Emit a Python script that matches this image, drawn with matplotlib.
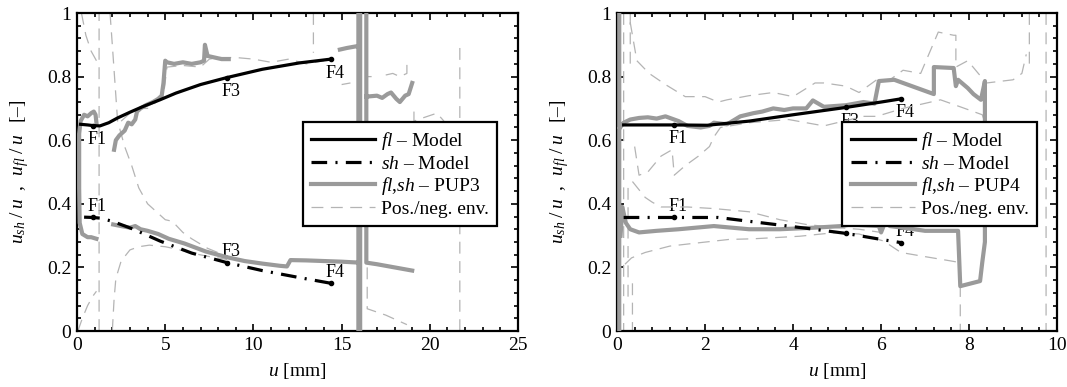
import numpy as np
import matplotlib
matplotlib.use("Agg")
import matplotlib.pyplot as plt
from matplotlib.ticker import MultipleLocator

plt.rcParams["font.family"] = ["Liberation Serif", "DejaVu Serif"]
plt.rcParams["mathtext.fontset"] = "custom"
plt.rcParams["mathtext.rm"] = "Liberation Serif"
plt.rcParams["mathtext.it"] = "Liberation Serif:italic"

NAN = np.nan

# ---------------- PUP3 (left) ----------------
fl_model_u_L = [0.2, 0.6, 0.9, 1.3, 1.8, 2.3, 3.0, 3.7, 4.7, 5.6, 7.0, 8.5, 10.5, 12.6, 14.4]
fl_model_L = [0.650, 0.648, 0.646, 0.645, 0.655, 0.670, 0.688, 0.705, 0.727, 0.748, 0.775, 0.797, 0.823, 0.843, 0.855]
sh_model_u_L = [0.4, 0.9, 1.3, 2.0, 3.2, 4.7, 6.5, 8.5, 10.5, 12.6, 14.4]
sh_model_L = [0.358, 0.357, 0.355, 0.345, 0.320, 0.283, 0.245, 0.215, 0.190, 0.168, 0.150]
f_points_L = [0.9, 8.5, 14.4]

# measured curve (fl and sh branches), NaN = break
pup3_u = [1.1, 0.8, 0.6, 0.3, 0.15, 0.12, 0.12, 0.2, 0.4, 0.6, 0.8, 0.95, 1.05, 1.1, NAN,
          2.1, 2.2, 2.4, 2.7, 2.9, 3.1, 3.3, 3.4, 3.6, 3.9, 4.1, 4.3, 4.6, 4.8, 4.9, 5.0, 5.1,
          5.5, 6.0, 6.5, 7.0, 7.2, 7.25, 7.4, 7.8, 8.2, 8.6, NAN,
          2.05, 2.5, 3.0, 3.3, 3.6, 4.0, 4.6, 5.2, 6.1, 7.3, 8.5, 9.5, 10.5, 11.5, 11.9, 12.1,
          13.0, 14.0, 15.0, 16.0, NAN,
          14.9, 15.3, 15.8, 16.0, NAN,
          15.95, 15.95, NAN, 16.05, 16.05, NAN,
          16.4, 16.4, 17.0, 18.0, 19.0, NAN,
          16.4, 17.0, 17.3, 17.6, 17.8, 18.1, 18.3, 18.6, 18.8, 19.0]
pup3_v = [0.29, 0.295, 0.295, 0.305, 0.34, 0.45, 0.62, 0.66, 0.68, 0.675, 0.685, 0.69, 0.68, 0.655, NAN,
          0.57, 0.60, 0.615, 0.63, 0.655, 0.65, 0.665, 0.69, 0.70, 0.71, 0.715, 0.72, 0.73, 0.74, 0.78, 0.85, 0.845,
          0.84, 0.845, 0.84, 0.845, 0.85, 0.90, 0.865, 0.86, 0.855, 0.855, NAN,
          0.335, 0.33, 0.325, 0.33, 0.32, 0.315, 0.305, 0.29, 0.275, 0.25, 0.232, 0.22, 0.212, 0.205, 0.203, 0.223,
          0.222, 0.22, 0.218, 0.215, NAN,
          0.885, 0.89, 0.895, 0.895, NAN,
          0.0, 1.0, NAN, 0.0, 1.0, NAN,
          1.0, 0.215, 0.21, 0.20, 0.19, NAN,
          0.737, 0.74, 0.733, 0.745, 0.75, 0.73, 0.72, 0.74, 0.745, 0.78]

# positive / negative envelopes
env3_u = [0.25, 0.5, 0.8, 1.1, NAN,
          1.25, 1.25, NAN,
          1.87, 2.0, 2.15, 2.3, 2.7, 3.1, 3.5, 4.0, 4.4, 5.0, 5.4, 6.0, 6.5, 7.4, 8.5, NAN,
          0.05, 0.3, 0.6, 0.9, 1.1, NAN,
          2.0, 2.1, 2.2, 2.5, 3.0, 3.5, 4.1, 5.0, 5.7, 6.5, 7.4, 8.5, NAN,
          2.5, 3.0, 3.5, 4.0, 4.5, 4.9, 5.1, 6.0, 7.0, 7.5, 8.0, 9.0, 10.0, 11.0, 12.0, 13.0, 14.0, NAN,
          13.4, 13.4, NAN,
          15.0, 15.5, NAN, 16.4, 16.7, NAN,
          17.5, 17.9, 18.3, 18.7, 18.7, NAN,
          19.1, 19.1, 19.6, 20.4, 20.8, NAN,
          21.7, 21.7, NAN,
          16.45, 16.45, 17.5, 18.7]
env3_v = [1.0, 0.93, 0.88, 0.85, NAN,
          0.0, 1.0, NAN,
          1.0, 0.9, 0.78, 0.66, 0.58, 0.52, 0.45, 0.40, 0.38, 0.35, 0.345, 0.31, 0.29, 0.26, 0.235, NAN,
          0.0, 0.04, 0.08, 0.11, 0.125, NAN,
          0.0, 0.10, 0.165, 0.22, 0.255, 0.265, 0.27, 0.265, 0.257, 0.245, 0.235, 0.225, NAN,
          0.66, 0.685, 0.70, 0.70, 0.72, 0.74, 0.83, 0.835, 0.83, 0.855, 0.86, 0.86, 0.855, 0.845, 0.855, 0.84, 0.85, NAN,
          1.0, 0.875, NAN,
          0.775, 0.78, NAN, 0.80, 0.80, NAN,
          0.805, 0.81, 0.80, 0.81, 0.86, NAN,
          0.69, 0.66, 0.67, 0.685, 0.66, NAN,
          0.89, 0.0, NAN,
          0.2, 0.07, 0.05, 0.02]

# ---------------- PUP4 (right) ----------------
fl_model_u_R = [0.15, 0.6, 1.3, 2.05, 3.0, 4.0, 5.2, 6.0, 6.45]
fl_model_R = [0.648, 0.648, 0.648, 0.647, 0.66, 0.68, 0.703, 0.72, 0.73]
sh_model_u_R = [0.15, 0.6, 1.3, 2.3, 3.0, 4.3, 5.2, 6.0, 6.45]
sh_model_R = [0.357, 0.357, 0.357, 0.357, 0.345, 0.323, 0.307, 0.288, 0.278]
f_points_R = [1.3, 5.2, 6.45]

pup4_u = [0.05, 0.05, NAN,
          0.07, 0.15, 0.3, 0.5, 0.7, 0.9, 1.1, 1.2, 1.4, 1.6, 1.9, 2.1, 2.2, 2.5, 2.8, 3.1, 3.3, 3.55,
          3.8, 4.0, 4.3, 4.45, 4.7, 5.2, 5.6, 5.85, 5.95, 6.3, 6.7, 6.9, 7.2, 7.2, 7.65, 7.7, 7.75,
          7.97, 8.1, 8.27, 8.36, 8.36, 8.3, 8.25, 7.8, 7.75, 7.0, 6.75, 6.2, 6.1, 6.0, 5.95, 5.3, 5.1,
          4.5, 3.7, 3.0, 2.2, 1.4, 0.9, 0.5, 0.3, 0.2, 0.12, 0.08]
pup4_v = [0.0, 1.0, NAN,
          0.64, 0.655, 0.665, 0.67, 0.672, 0.668, 0.675, 0.67, 0.66, 0.645, 0.64, 0.645, 0.655, 0.65, 0.675, 0.685, 0.69, 0.70,
          0.695, 0.70, 0.70, 0.725, 0.705, 0.71, 0.72, 0.715, 0.786, 0.79, 0.77, 0.76, 0.745, 0.83, 0.827, 0.77, 0.79,
          0.764, 0.745, 0.727, 0.786, 0.28, 0.216, 0.157, 0.141, 0.315, 0.315, 0.32, 0.33, 0.345, 0.31, 0.33, 0.335, 0.33,
          0.325, 0.32, 0.32, 0.33, 0.32, 0.315, 0.31, 0.32, 0.34, 0.39, 0.30]

env4_u = [0.15, 0.15, NAN, 0.3, 0.3, NAN, 0.35, 0.35, NAN, 0.25, 0.25, NAN,
          0.3, 0.45, 0.73, 1.1, 1.55, 2.0, 2.3, 2.5, 3.0, 3.55, 4.0, 4.5, 4.7, 5.2, 5.5, 5.9, 6.2, 6.5,
          6.9, 7.3, 7.65, 7.7, 7.7, 7.97, 8.27, 8.4, 9.0, 9.2, 9.3, NAN,
          9.37, 9.37, NAN, 9.75, 9.75, NAN,
          0.4, 0.5, 0.7, 1.0, 1.25, 1.3, 1.55, 1.85, 2.1, 2.2, 2.35, 3.0, 3.9, 4.7, 5.6, 5.9, 6.5, 7.35,
          7.8, 8.3, 8.35, 8.35, NAN,
          0.35, 0.64, 0.8, 1.0, 1.6, 2.2, 3.0, 3.7, 4.3, 5.0, 5.5, 6.0, NAN,
          0.18, 0.33, 0.64, 1.2, 1.7, 2.55, 3.1, 4.15, 5.0, 5.5, 6.06, 6.45, 6.95, 7.6, 7.8, 7.8]
env4_v = [1.0, 0.0, NAN, 1.0, 0.82, NAN, 0.15, 0.0, NAN, 0.45, 0.1, NAN,
          0.97, 0.85, 0.81, 0.775, 0.737, 0.737, 0.72, 0.727, 0.74, 0.75, 0.737, 0.78, 0.78, 0.77, 0.75, 0.79, 0.79, 0.82,
          0.81, 0.94, 0.93, 0.93, 0.83, 0.85, 0.80, 0.78, 0.79, 0.81, 0.87, NAN,
          1.0, 0.83, NAN, 1.0, 0.0, NAN,
          0.58, 0.49, 0.50, 0.55, 0.57, 0.49, 0.52, 0.55, 0.58, 0.61, 0.64, 0.655, 0.665, 0.645, 0.675, 0.675, 0.70, 0.727,
          0.705, 0.68, 0.66, 0.62, NAN,
          0.47, 0.42, 0.405, 0.39, 0.39, 0.385, 0.375, 0.35, 0.335, 0.325, 0.32, 0.31, NAN,
          0.21, 0.23, 0.247, 0.267, 0.275, 0.288, 0.29, 0.298, 0.31, 0.305, 0.283, 0.247, 0.235, 0.22, 0.215, 0.0]

GRAY = "#9a9a9a"
ENV = "#b4b4b4"
DASHDOT = (0, (4.9, 2.6, 0.65, 2.6))
ENVDASH = (0, (9.5, 6.0))


def draw_panel(ax, fl_u, fl_v, sh_u, sh_v, fpts, pup_u, pup_v, env_u, env_v, xmax, xstep, label):
    ax.plot(env_u, env_v, color=ENV, lw=0.9, linestyle=ENVDASH, label="Pos./neg. env.", zorder=2)
    ax.plot(pup_u, pup_v, color=GRAY, lw=3.0, solid_joinstyle="round",
            label=r"$\mathit{fl}$,$\mathit{sh}$ – " + label, zorder=3)
    ax.plot(fl_u, fl_v, color="black", lw=2.3, label=r"$\mathit{fl}$ – Model", zorder=4)
    ax.plot(sh_u, sh_v, color="black", lw=2.3, linestyle=DASHDOT, label=r"$\mathit{sh}$ – Model", zorder=4)

    # F-points on the model curves
    names = ["F1", "F3", "F4"]
    fy = np.interp(fpts, fl_u, fl_v)
    sy = np.interp(fpts, sh_u, sh_v)
    ax.plot(fpts, fy, "o", color="black", ms=3, zorder=5)
    ax.plot(fpts, sy, "o", color="black", ms=3, zorder=5)
    for n, x, y1, y2 in zip(names, fpts, fy, sy):
        ax.annotate(n, (x, y1), xytext=(3, -4), textcoords="offset points",
                    ha="center", va="top", fontsize=13, zorder=1)
        ax.annotate(n, (x, y2), xytext=(3, 2), textcoords="offset points",
                    ha="center", va="bottom", fontsize=13, zorder=1)

    ax.set_xlim(0, xmax)
    ax.set_ylim(0, 1)
    ax.xaxis.set_major_locator(MultipleLocator(xstep))
    ax.xaxis.set_minor_locator(MultipleLocator(xstep / 5))
    ax.yaxis.set_minor_locator(MultipleLocator(0.04))
    ax.set_yticks([0, 0.2, 0.4, 0.6, 0.8, 1.0])
    ax.set_yticklabels(["0", "0.2", "0.4", "0.6", "0.8", "1"])
    ax.tick_params(which="both", direction="in", top=True, right=True, labelsize=14, width=1.2)
    ax.tick_params(which="major", length=5, pad=4)
    ax.tick_params(which="minor", length=3)
    for s in ax.spines.values():
        s.set_linewidth(1.6)

    ax.set_xlabel(r"$u$ [mm]", fontsize=14)
    ax.set_ylabel(r"$u_{sh}\;/\;u\;\;,\;\;u_{fl}\;/\;u\;\;\;$[–]", fontsize=14)
    ax.xaxis.set_label_coords(0.5, -0.095)
    ax.yaxis.set_label_coords(-0.105, 0.5)

    h, l = ax.get_legend_handles_labels()
    order = [2, 3, 1, 0]
    leg = ax.legend([h[i] for i in order], [l[i] for i in order], loc="upper left",
                    bbox_to_anchor=(0.512, 0.657), borderaxespad=0, fontsize=14,
                    handlelength=3.3, handletextpad=0.3, labelspacing=0.14, borderpad=0.42,
                    fancybox=False, framealpha=1, edgecolor="black")
    leg.get_frame().set_linewidth(1.6)
    leg.set_zorder(10)


fig = plt.figure(figsize=(10.67, 3.87), dpi=100)
axL = fig.add_axes([0.0722, 0.1447, 0.4133, 0.8217])
axR = fig.add_axes([0.5783, 0.1447, 0.4124, 0.8217])

draw_panel(axL, fl_model_u_L, fl_model_L, sh_model_u_L, sh_model_L, f_points_L,
           pup3_u, pup3_v, env3_u, env3_v, 25, 5, "PUP3")
draw_panel(axR, fl_model_u_R, fl_model_R, sh_model_u_R, sh_model_R, f_points_R,
           pup4_u, pup4_v, env4_u, env4_v, 10, 2, "PUP4")

fig.savefig("out.png", dpi=100)
